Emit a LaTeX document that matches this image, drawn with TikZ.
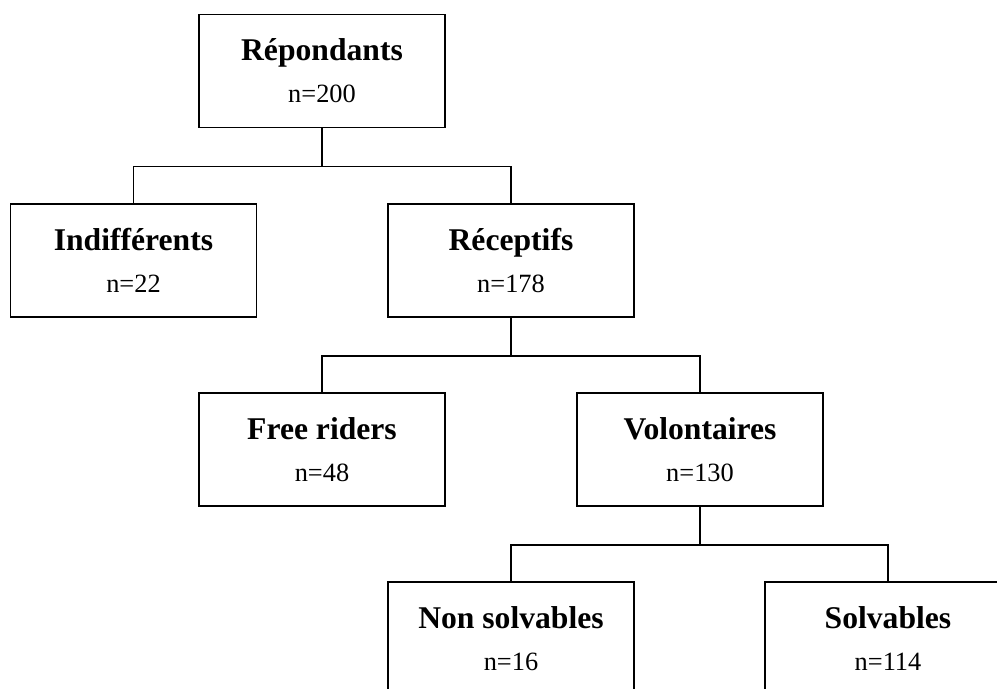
\documentclass[tikz,border=0pt]{standalone}
\usepackage{fontspec}
\setmainfont{Liberation Serif}
\usepackage{xcolor}
\definecolor{BoxBorder}{RGB}{0,0,0}
\definecolor{EdgeColor}{RGB}{0,0,0}
\usepackage{tikz}
\usetikzlibrary{
  positioning,
  calc
}
\newcommand{\grouptitle}[1]{{\fontsize{18}{20}\selectfont\bfseries #1}}
\tikzset{
  % Group box
  group/.style={
    rectangle,
    draw=BoxBorder,
    line width=1.1pt,
    minimum width=4.92cm,
    minimum height=2.26cm,
    inner sep=0pt,
    align=center,
    font=\fontsize{15}{24}\selectfont
  },
  % Tree edge
  edge/.style={
    draw=EdgeColor,
    line width=1pt
  }
}

\begin{document}
\begin{tikzpicture}
  \useasboundingbox (0,0) rectangle (19.94,-13.78);
  \clip (0,0) rectangle (19.94,-13.78);
  \node[group] (rep) at (6.44,-1.42) {\grouptitle{Répondants}\\n=200};
  \node[group] (ind) at (2.67,-5.21) {\grouptitle{Indifférents}\\n=22};
  \node[group] (rec) at (10.22,-5.21) {\grouptitle{Réceptifs}\\n=178};
  \node[group] (free) at (6.44,-8.99) {\grouptitle{Free riders}\\n=48};
  \node[group] (vol) at (14.0,-8.99) {\grouptitle{Volontaires}\\n=130};
  \node[group] (nons) at (10.22,-12.77) {\grouptitle{Non solvables}\\n=16};
  \node[group] (solv) at (17.76,-12.77) {\grouptitle{Solvables}\\n=114};
  \draw[edge] (rep.south) -- ++(0,-0.76) coordinate (b1);
  \draw[edge] (ind.north) |- (b1) -| (rec.north);
  \draw[edge] (rec.south) -- ++(0,-0.76) coordinate (b2);
  \draw[edge] (free.north) |- (b2) -| (vol.north);
  \draw[edge] (vol.south) -- ++(0,-0.76) coordinate (b3);
  \draw[edge] (nons.north) |- (b3) -| (solv.north);
\end{tikzpicture}
\end{document}
